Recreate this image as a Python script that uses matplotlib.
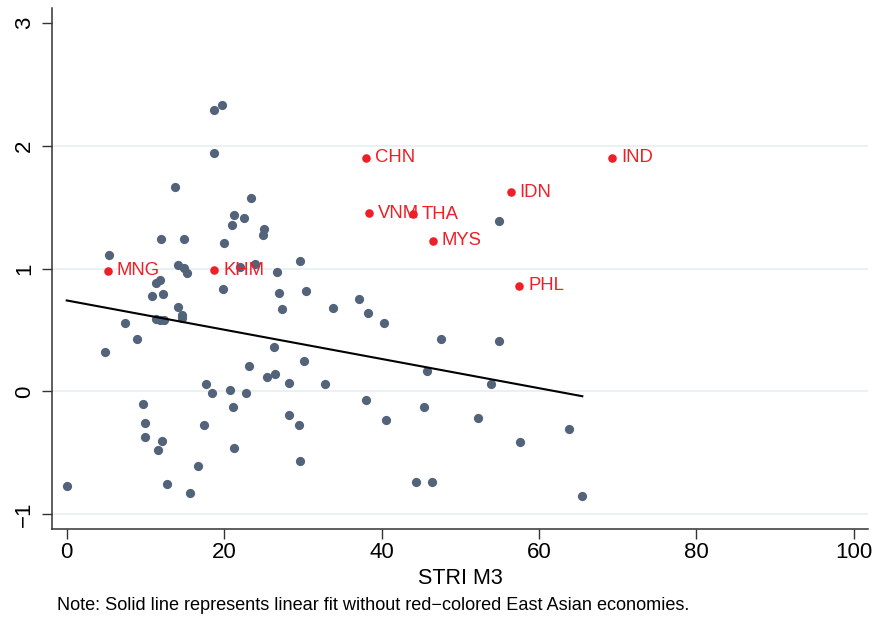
import matplotlib
matplotlib.use("Agg")
import matplotlib.pyplot as plt
import numpy as np

# ── Style ─────────────────────────────────────────────────────────────────────
plt.rcParams["font.family"] = ["Liberation Sans", "DejaVu Sans"]
GRAY_DOT = "#52637a"
RED_DOT  = "#ee1f26"
GRID     = "#e6edf2"
AXIS     = "#333333"

# ── Data ──────────────────────────────────────────────────────────────────────
# other economies
other_x = [18.76, 19.77, 18.76, 13.77, 23.4, 21.3, 22.5, 21.0, 25.1, 25.0,
           12.0, 14.96, 20.0, 5.36, 29.6, 23.95, 22.05, 14.2, 14.87, 15.3,
           26.7, 11.9, 11.4, 12.17, 10.86, 19.86, 27.0, 30.4, 14.2, 14.6,
           14.65, 27.3, 33.8, 11.3, 11.9, 12.4, 7.4, 8.96, 4.86, 26.3,
           30.2, 23.1, 25.4, 26.5, 28.2, 32.8, 17.7, 18.46, 20.75, 22.8,
           21.1, 9.67, 10.0, 9.97, 12.1, 11.66, 17.45, 28.3, 29.5, 21.25,
           29.7, 16.7, 12.8, 15.6, 0.0, 54.9, 37.1, 38.3, 40.3, 47.5,
           54.9, 45.75, 53.9, 38.0, 45.4, 40.6, 52.3, 63.8, 57.6, 44.4,
           46.4, 65.5]
other_y = [2.29, 2.33, 1.94, 1.66, 1.57, 1.435, 1.41, 1.35, 1.32, 1.27,
           1.24, 1.24, 1.21, 1.11, 1.06, 1.04, 1.015, 1.03, 1.007, 0.964,
           0.975, 0.905, 0.88, 0.794, 0.78, 0.83, 0.80, 0.82, 0.69, 0.62,
           0.60, 0.67, 0.68, 0.59, 0.577, 0.577, 0.556, 0.425, 0.317, 0.36,
           0.244, 0.21, 0.115, 0.14, 0.069, 0.063, 0.063, -0.01, 0.015, -0.015,
           -0.126, -0.105, -0.26, -0.37, -0.40, -0.475, -0.275, -0.19, -0.275, -0.46,
           -0.565, -0.61, -0.75, -0.83, -0.77, 1.39, 0.75, 0.637, 0.56, 0.43,
           0.407, 0.163, 0.058, -0.072, -0.124, -0.237, -0.213, -0.31, -0.413, -0.738,
           -0.738, -0.85]

# East Asian economies (red)
ea_codes = ["CHN", "IND", "IDN", "VNM", "THA", "MYS", "PHL", "MNG", "KHM"]
ea_x     = [38.06, 69.3, 56.4, 38.4, 44.0, 46.5, 57.5, 5.23, 18.76]
ea_y     = [1.90, 1.90, 1.62, 1.45, 1.443, 1.224, 0.861, 0.98, 0.986]

# linear fit (without East Asian economies)
fit_intercept = 0.74
fit_slope     = -0.0119

x_ticks = [0, 20, 40, 60, 80, 100]
y_ticks = [-1, 0, 1, 2, 3]
grid_levels = [-1, 0, 1, 2]


def main() -> None:
    fig = plt.figure(figsize=(8.77, 6.18), dpi=100, facecolor="white")
    ax = fig.add_axes([52 / 877, 1 - 529 / 618, (868 - 52) / 877, (529 - 8) / 618])

    for g in grid_levels:
        ax.axhline(g, color=GRID, linewidth=1.2, zorder=0)

    ax.scatter(other_x, other_y, s=44, color=GRAY_DOT, linewidths=0, zorder=2)
    ax.scatter(ea_x, ea_y, s=38, color=RED_DOT, linewidths=0, zorder=3)
    for code, x, y in zip(ea_codes, ea_x, ea_y):
        ax.annotate(code, (x, y), xytext=(6.5, 0), textcoords="offset points",
                    ha="left", va="center", fontsize=13.3, color=RED_DOT, zorder=3)

    fx = np.array([0, max(other_x)])
    ax.plot(fx, fit_intercept + fit_slope * fx, color="black", linewidth=1.5, zorder=4)

    ax.set_xlim(-1.87, 101.8)
    ax.set_ylim(-1.12, 3.12)
    ax.set_xticks(x_ticks)
    ax.set_yticks(y_ticks)
    ax.set_yticklabels([str(v).replace("-", "\u2212") for v in y_ticks],
                       rotation=90, va="center")
    ax.tick_params(axis="both", labelsize=16, length=7, width=1, color=AXIS)
    ax.tick_params(axis="x", pad=2)
    ax.tick_params(axis="y", pad=5)

    for side in ("top", "right"):
        ax.spines[side].set_visible(False)
    for side in ("left", "bottom"):
        ax.spines[side].set_color(AXIS)
        ax.spines[side].set_linewidth(1.1)

    ax.set_xlabel("STRI M3", fontsize=15.5, labelpad=4)
    fig.text(57 / 877, 1 - 605 / 618,
             "Note: Solid line represents linear fit without red\u2212colored East Asian economies.",
             fontsize=13.1, ha="left", va="center")

    fig.savefig("out.png", dpi=100, facecolor="white")
    plt.close(fig)


if __name__ == "__main__":
    main()
